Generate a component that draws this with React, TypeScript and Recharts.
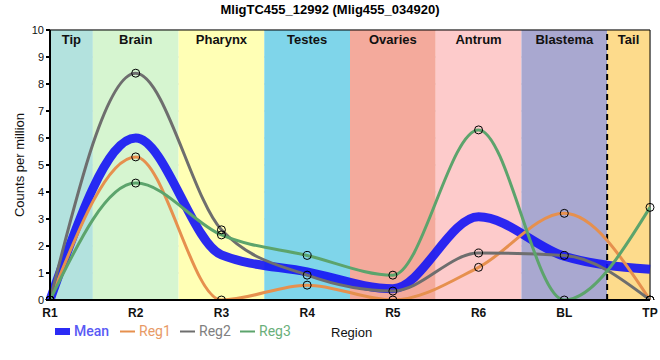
import React from 'react';
import {
  LineChart,
  Line,
  XAxis,
  YAxis,
  CartesianGrid,
  ReferenceArea,
  ReferenceLine,
} from 'recharts';

const regions = ['R1', 'R2', 'R3', 'R4', 'R5', 'R6', 'BL', 'TP'];
const meanValues = [0, 6.0, 1.67, 1.04, 0.42, 3.08, 1.62, 1.14];
const reg1Values = [0, 5.3, 0, 0.55, 0, 1.21, 3.21, 0];
const reg2Values = [0, 8.4, 2.6, 0.92, 0.33, 1.74, 1.65, 0];
const reg3Values = [0, 4.33, 2.41, 1.65, 0.92, 6.3, 0, 3.43];

const bands = [
  { name: 'Tip', from: 0, to: 0.5, color: '#b3e2de' },
  { name: 'Brain', from: 0.5, to: 1.5, color: '#d6f5d0' },
  { name: 'Pharynx', from: 1.5, to: 2.5, color: '#ffffb5' },
  { name: 'Testes', from: 2.5, to: 3.5, color: '#7fd5ea' },
  { name: 'Ovaries', from: 3.5, to: 4.5, color: '#f4aa9c' },
  { name: 'Antrum', from: 4.5, to: 5.5, color: '#fdcbcb' },
  { name: 'Blastema', from: 5.5, to: 6.5, color: '#a9a8d0' },
  { name: 'Tail', from: 6.5, to: 7, color: '#fddb8c' },
];

const yTicks = [0, 1, 2, 3, 4, 5, 6, 7, 8, 9, 10];

const data = regions.map((r, i) => ({
  x: i,
  mean: meanValues[i],
  reg1: reg1Values[i],
  reg2: reg2Values[i],
  reg3: reg3Values[i],
}));

const font = '"Liberation Sans", Arial, sans-serif';

const dot = { r: 4, fill: 'none', stroke: '#000', strokeWidth: 1 };

const BandLabel = (props: any) => {
  const { viewBox, value } = props;
  return (
    <text
      x={viewBox.x + viewBox.width / 2}
      y={44}
      textAnchor="middle"
      fontSize={13}
      fontWeight="bold"
      fontFamily={font}
      fill="#111"
    >
      {value}
    </text>
  );
};

export default function App() {
  return (
    <div style={{ position: 'absolute', left: 0, top: 0, width: 660, height: 360, background: '#fff', fontFamily: font }}>
      <div
        style={{
          position: 'absolute',
          top: 2,
          left: 0,
          width: 660,
          textAlign: 'center',
          fontSize: 13,
          fontWeight: 'bold',
        }}
      >
        MligTC455_12992 (Mlig455_034920)
      </div>
      <LineChart width={660} height={360} data={data} margin={{ top: 30, right: 10, left: 0, bottom: 40 }}>
        {bands.map((b) => (
          <ReferenceArea
            key={b.name}
            x1={b.from}
            x2={b.to}
            y1={0}
            y2={10}
            fill={b.color}
            fillOpacity={1}
            stroke="none"
            ifOverflow="hidden"
            label={<BandLabel value={b.name} />}
          />
        ))}
        <CartesianGrid stroke="#c8c8c8" strokeWidth={1} />
        <XAxis
          dataKey="x"
          type="number"
          domain={[0, 7]}
          ticks={[0, 1, 2, 3, 4, 5, 6, 7]}
          tickFormatter={(v: number) => regions[v]}
          height={20}
          stroke="#000"
          strokeWidth={2}
          tickLine={false}
          tick={{ fontSize: 12, fontWeight: 'bold', fill: '#111', fontFamily: font }}
          tickMargin={2}
        />
        <YAxis
          type="number"
          domain={[0, 10]}
          allowDataOverflow
          ticks={yTicks}
          width={50}
          stroke="#000"
          strokeWidth={2}
          tickSize={4}
          tick={{ fontSize: 11, fill: '#111', fontFamily: font }}
          label={{
            value: 'Counts per million',
            angle: -90,
            position: 'insideLeft',
            offset: 19,
            style: { fontSize: 13, fill: '#111', textAnchor: 'middle', fontFamily: font },
          }}
        />
        <ReferenceLine x={6.5} stroke="#000" strokeWidth={2} strokeDasharray="6 4" />
        <ReferenceLine y={10} stroke="#000" strokeWidth={1} />
        <ReferenceLine x={7} stroke="#000" strokeWidth={1} />
        <Line
          type="monotone"
          dataKey="mean"
          stroke="#1414f5"
          strokeOpacity={0.9}
          strokeWidth={9}
          dot={false}
          activeDot={false}
          isAnimationActive={false}
        />
        <Line
          type="monotone"
          dataKey="reg1"
          stroke="#e6904e"
          strokeWidth={3}
          dot={dot}
          activeDot={false}
          isAnimationActive={false}
        />
        <Line
          type="monotone"
          dataKey="reg2"
          stroke="#6e6e6e"
          strokeWidth={3}
          dot={dot}
          activeDot={false}
          isAnimationActive={false}
        />
        <Line
          type="monotone"
          dataKey="reg3"
          stroke="#5ca46c"
          strokeWidth={3}
          dot={dot}
          activeDot={false}
          isAnimationActive={false}
        />
      </LineChart>
      <svg style={{ position: 'absolute', left: 0, top: 320 }} width={660} height={25}>
        <rect x={55} y={8} width={15} height={7} fill="#2b2bf5" />
        <text x={74} y={16} fontSize={14} fill="#5a5af5" fontFamily="Roboto, sans-serif" fontWeight={500}>Mean</text>
        <line x1={120} x2={135} y1={11.5} y2={11.5} stroke="#e6904e" strokeWidth={2} />
        <text x={139} y={16} fontSize={14} fill="#e89a66" fontFamily="Roboto, sans-serif">Reg1</text>
        <line x1={180} x2={195} y1={11.5} y2={11.5} stroke="#6e6e6e" strokeWidth={2} />
        <text x={199} y={16} fontSize={14} fill="#808080" fontFamily="Roboto, sans-serif">Reg2</text>
        <line x1={240} x2={255} y1={11.5} y2={11.5} stroke="#5ca46c" strokeWidth={2} />
        <text x={259} y={16} fontSize={14} fill="#6aaf7a" fontFamily="Roboto, sans-serif">Reg3</text>
        <text x={331} y={17} fontSize={13} fill="#111" fontFamily={font}>Region</text>
      </svg>
    </div>
  );
}
